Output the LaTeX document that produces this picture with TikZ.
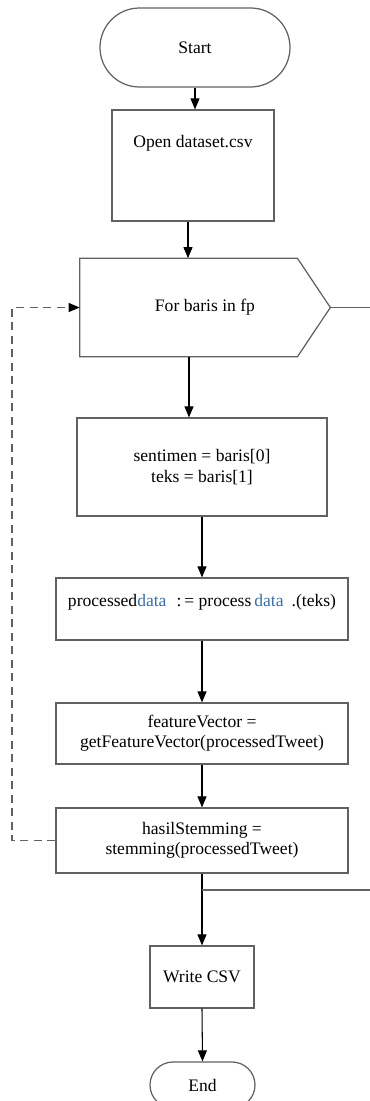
\documentclass[tikz,border=0pt]{standalone}
\usepackage{fontspec}
\setmainfont{Liberation Serif}
\usetikzlibrary{shapes.misc,arrows.meta}
\colorlet{boxgray}{black!62}
\definecolor{datablue}{RGB}{60,110,165}

\begin{document}
\begin{tikzpicture}[x=0.2mm,y=-0.2mm,font=\fontsize{10}{11.5}\selectfont,
        box/.style={draw=boxgray, line width=0.7pt, inner sep=0pt, align=center},
        terminal/.style={box, rounded rectangle},
        arr/.style={-{Triangle[length=2.2mm,width=1.8mm]}, line width=0.6pt},
        backline/.style={draw=boxgray, line width=0.7pt, dash pattern=on 1.6mm off 1.1mm,
            -{Triangle[length=2.2mm,width=1.8mm,color=black]}}]
    \useasboundingbox (0,0) rectangle (370,1101);

    % boxes
    \node[terminal, minimum width=38mm, minimum height=15.8mm] (start) at (195,47.5) {Start};
    \node[box, minimum width=32.4mm, minimum height=22.2mm, text height=2.6mm, text depth=10mm] (open) at (193,165.5) {Open dataset.csv};
    \node[inner sep=0pt, minimum width=50mm, minimum height=19.6mm] (forb) at (205,307.5) {For baris in fp};
    \draw[boxgray, line width=0.7pt] (forb.north west) -- ([xshift=-6.6mm]forb.north east) -- (forb.east)
        -- ([xshift=-6.6mm]forb.south east) -- (forb.south west) -- cycle;
    \node[box, minimum width=50mm, minimum height=19.6mm] (sent) at (202,467) {sentimen = baris[0]\\teks = baris[1]};
    \node[box, minimum width=58.4mm, minimum height=12.4mm, text height=2.6mm, text depth=3.6mm] (proc) at (202,609)
        {processed\textcolor{datablue}{data}\hspace{2mm}:\,= process\hspace{0.6mm}\textcolor{datablue}{data}\hspace{1.6mm}.(teks)};
    \node[box, minimum width=58.4mm, minimum height=12.2mm] (feat) at (202,733.5) {featureVector =\\getFeatureVector(processedTweet)};
    \node[box, minimum width=58.4mm, minimum height=13mm] (hasil) at (202,840.5) {hasilStemming =\\stemming(processedTweet)};
    \node[box, minimum width=20.8mm, minimum height=12.4mm] (write) at (202,977) {Write CSV};
    \node[terminal, minimum width=21mm, minimum height=9.2mm] (end) at (202.5,1085) {End};

    \coordinate (forout) at (370,307.5);
    \coordinate (split) at (202,890);
    \coordinate (splitout) at (370,890);
    \coordinate (backleft) at (12,840.5);

    % flow
    \draw[arr] (start.south) -- (start.south |- open.north);
    \draw[arr] ([xshift=-1mm]open.south) -- ([xshift=-1mm]open.south |- forb.north);
    \draw[arr] ([xshift=-3.2mm]forb.south) -- ([xshift=-3.2mm]forb.south |- sent.north);
    \draw[arr] (sent.south) -- (proc.north);
    \draw[arr] (proc.south) -- (feat.north);
    \draw[arr] (feat.south) -- (hasil.north);
    \draw[arr] (hasil.south) -- (write.north);
    \draw[arr] (write.south) -- (end.north);
    \draw[boxgray, line width=0.7pt] (forb.east) -- (forout);
    \draw[boxgray, line width=0.7pt] (split) -- (splitout);
    \draw[backline] (hasil.west) -- (backleft) |- (forb.west);
\end{tikzpicture}
\end{document}
